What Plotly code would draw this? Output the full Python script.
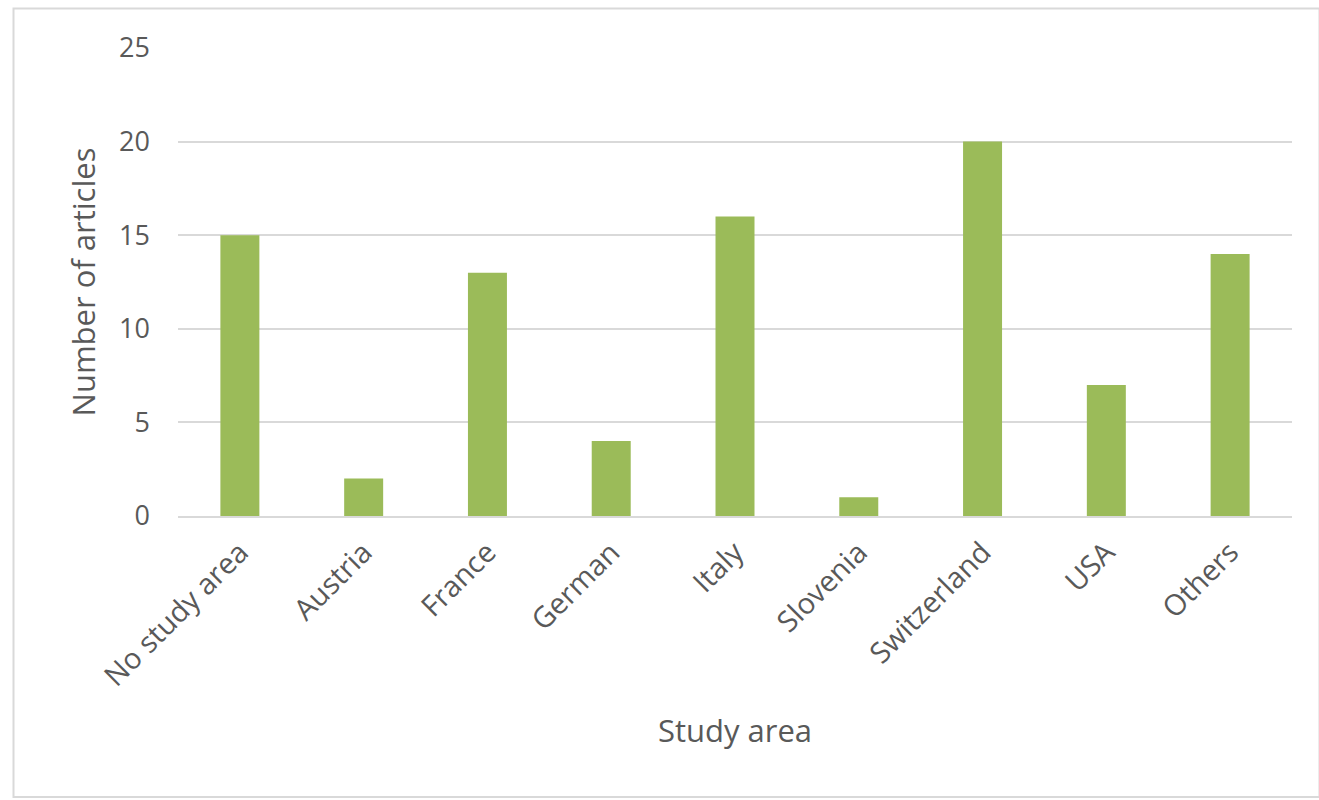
import plotly.graph_objects as go

categories = ["No study area", "Austria", "France", "German", "Italy", "Slovenia", "Switzerland", "USA", "Others"]
articles = [15, 2, 13, 4, 16, 1, 20, 7, 14]
y_ticks = [0, 5, 10, 15, 20, 25]

W, H = 1319, 800
L, R, T, B = 178, 27, 48, 284
pw, ph = W - L - R, H - T - B

def px_x(x):
    return (x - L) / pw

def px_y(y):
    return (H - B - y) / ph

fig = go.Figure(go.Bar(x=categories, y=articles, marker=dict(color="#9BBB59", line=dict(width=0))))

fig.update_layout(
    width=W, height=H,
    margin=dict(l=L, r=R, t=T, b=B),
    paper_bgcolor="white", plot_bgcolor="white",
    bargap=0.685,
    font=dict(family="Open Sans, Liberation Sans, sans-serif", color="#595959"),
    showlegend=False,
    shapes=[dict(type="rect", xref="paper", yref="paper",
                 x0=px_x(13.5), x1=px_x(1319.5), y0=px_y(797), y1=px_y(8.5),
                 line=dict(color="#D9D9D9", width=2), fillcolor="rgba(0,0,0,0)", layer="below")],
)
fig.update_xaxes(
    tickangle=-45, tickfont=dict(size=29, color="#595959"),
    ticklabelstandoff=6,
    showline=True, linecolor="#D9D9D9", linewidth=1.5,
    title=dict(text="Study area", font=dict(size=31, color="#595959"), standoff=28),
    showgrid=False,
)
fig.update_yaxes(
    range=[0, 25], tickvals=y_ticks, tickfont=dict(size=27, color="#595959"),
    showgrid=True, gridcolor="#D9D9D9", gridwidth=1.5, zeroline=False,
    ticklabelstandoff=27,
    title=dict(text="Number of articles", font=dict(size=31, color="#595959"), standoff=14),
)
fig.write_html("out.html")
